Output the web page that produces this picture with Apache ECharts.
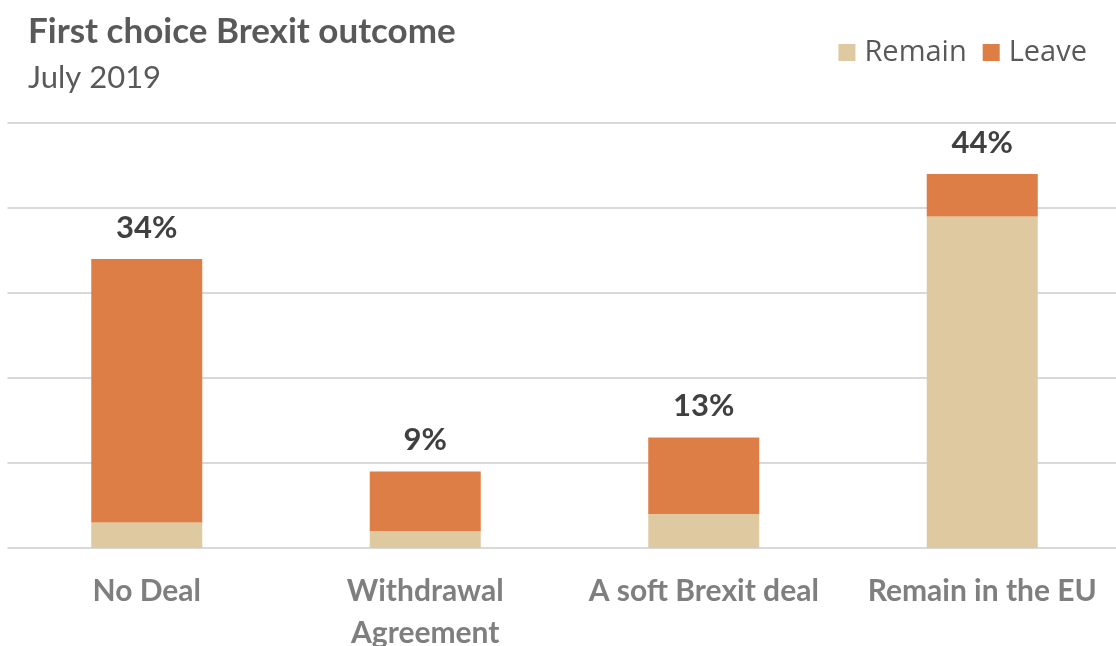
<!DOCTYPE html>
<html>
<head>
<meta charset="utf-8">
<script src="https://cdn.jsdelivr.net/npm/echarts@6/dist/echarts.min.js"></script>
<style>
  html, body { margin: 0; padding: 0; background: #ffffff; }
  #chart { width: 1116px; height: 646px; }
</style>
</head>
<body>
<div id="chart"></div>
<script>
// First choice Brexit outcome, split by referendum vote (July 2019)
const categories = ['No Deal', 'Withdrawal\nAgreement', 'A soft Brexit deal', 'Remain in the EU'];
const remainVoters = [3, 2, 4, 39];
const leaveVoters = [31, 7, 9, 5];
const totals = [34, 9, 13, 44];

const FONT = 'Lato, "Open Sans", sans-serif';
const chart = echarts.init(document.getElementById('chart'), null, { renderer: 'canvas' });

chart.setOption({
  animation: false,
  backgroundColor: '#ffffff',
  textStyle: { fontFamily: FONT },
  title: [
    {
      text: 'First choice Brexit outcome',
      left: 23, top: 9,
      textStyle: { fontFamily: FONT, fontSize: 35, fontWeight: 'bold', color: '#595959' }
    },
    {
      text: 'July 2019',
      left: 23, top: 57,
      textStyle: { fontFamily: FONT, fontSize: 31, fontWeight: 'normal', color: '#595959' }
    }
  ],
  legend: {
    right: 24, top: 33,
    itemWidth: 17, itemHeight: 17, itemGap: 16,
    icon: 'rect',
    textStyle: { fontFamily: '"Open Sans", sans-serif', fontSize: 29, color: '#595959', padding: [0, 0, 0, 4] },
    data: ['Remain', 'Leave']
  },
  grid: { left: 7.5, right: -5.5, top: 123, bottom: 98, outerBoundsMode: 'none', containLabel: false },
  xAxis: {
    type: 'category',
    data: categories,
    axisLine: { show: false },
    axisTick: { show: false },
    axisLabel: {
      interval: 0,
      margin: 22,
      fontFamily: FONT, fontSize: 30, fontWeight: 'bold', color: '#7f7f7f',
      lineHeight: 42
    }
  },
  yAxis: {
    type: 'value',
    min: 0, max: 50, interval: 10,
    axisLabel: { show: false },
    axisLine: { show: false },
    axisTick: { show: false },
    splitLine: { lineStyle: { color: '#d9d9d9', width: 2 } }
  },
  series: [
    {
      name: 'Remain',
      type: 'bar',
      stack: 'vote',
      barWidth: 111,
      itemStyle: { color: '#dfc9a0' },
      data: remainVoters
    },
    {
      name: 'Leave',
      type: 'bar',
      stack: 'vote',
      barWidth: 111,
      itemStyle: { color: '#dc7e46' },
      label: {
        show: true,
        position: 'top',
        distance: 16,
        fontFamily: FONT, fontSize: 31, fontWeight: 'bold', color: '#404040',
        formatter: p => totals[p.dataIndex] + '%'
      },
      data: leaveVoters
    }
  ]
});
</script>
</body>
</html>
